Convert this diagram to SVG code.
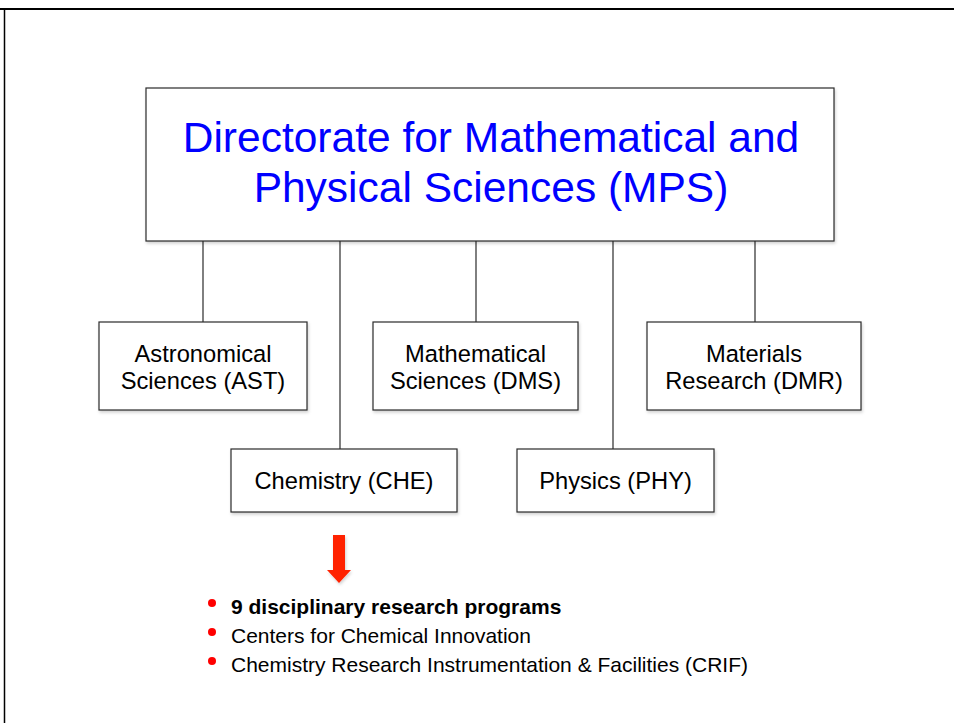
<svg xmlns="http://www.w3.org/2000/svg" width="954" height="723" viewBox="0 0 954 723">
<style>
.box{fill:#fff;stroke:#2b2b2b;stroke-width:1.2;filter:url(#sh)}
.lbl{font-family:"Liberation Sans",Arial,sans-serif;font-size:23.7px;fill:#000;text-anchor:middle}
.title{font-family:"Liberation Sans",Arial,sans-serif;font-size:42.5px;fill:#0000ff;text-anchor:middle}
.conn line{stroke:#2b2b2b;stroke-width:1.2}
.bul{font-family:"Liberation Sans",Arial,sans-serif;font-size:21px;fill:#000}
</style>
<defs>
<filter id="sh" x="-5%" y="-5%" width="115%" height="125%">
<feDropShadow dx="1" dy="2" stdDeviation="1.5" flood-color="#000" flood-opacity="0.18"/>
</filter>
</defs>
<rect width="954" height="723" fill="#fff"/>
<g id="frame">
<line x1="0" y1="9" x2="954" y2="9" stroke="#000" stroke-width="2"/>
<line x1="4.5" y1="9" x2="4.5" y2="723" stroke="#000" stroke-width="1.5"/>
</g>
<g class="conn" id="connectors">
<line x1="203" y1="241" x2="203" y2="322"/>
<line x1="340" y1="241" x2="340" y2="449"/>
<line x1="476" y1="241" x2="476" y2="322"/>
<line x1="613" y1="241" x2="613" y2="449"/>
<line x1="755" y1="241" x2="755" y2="322"/>
</g>
<g id="mps">
<rect class="box" x="146" y="88" width="688" height="153"/>
<text class="title" x="491" y="152">Directorate for Mathematical and</text>
<text class="title" x="491" y="202">Physical Sciences (MPS)</text>
</g>
<g id="ast">
<rect class="box" x="99" y="322" width="208" height="88"/>
<text class="lbl" x="203" y="362">Astronomical</text>
<text class="lbl" x="203" y="389">Sciences (AST)</text>
</g>
<g id="dms">
<rect class="box" x="373" y="322" width="205" height="88"/>
<text class="lbl" x="475.5" y="362">Mathematical</text>
<text class="lbl" x="475.5" y="389">Sciences (DMS)</text>
</g>
<g id="dmr">
<rect class="box" x="647" y="322" width="214" height="88"/>
<text class="lbl" x="754" y="362">Materials</text>
<text class="lbl" x="754" y="389">Research (DMR)</text>
</g>
<g id="che">
<rect class="box" x="231" y="449" width="226" height="63"/>
<text class="lbl" x="344" y="489">Chemistry (CHE)</text>
</g>
<g id="phy">
<rect class="box" x="517" y="449" width="197" height="63"/>
<text class="lbl" x="615.5" y="489">Physics (PHY)</text>
</g>
<g id="arrow">
<polygon points="333,535 345,535 345,570 351,570 339,583 327,570 333,570" fill="#ff2200" filter="url(#sh)"/>
</g>
<g id="bullets">
<circle cx="212" cy="603" r="4" fill="#ff0000"/>
<circle cx="212" cy="632" r="4" fill="#ff0000"/>
<circle cx="212" cy="661" r="4" fill="#ff0000"/>
<text class="bul" x="231" y="614" font-weight="bold">9 disciplinary research programs</text>
<text class="bul" x="231" y="643">Centers for Chemical Innovation</text>
<text class="bul" x="231" y="672">Chemistry Research Instrumentation &amp; Facilities (CRIF)</text>
</g>
</svg>
